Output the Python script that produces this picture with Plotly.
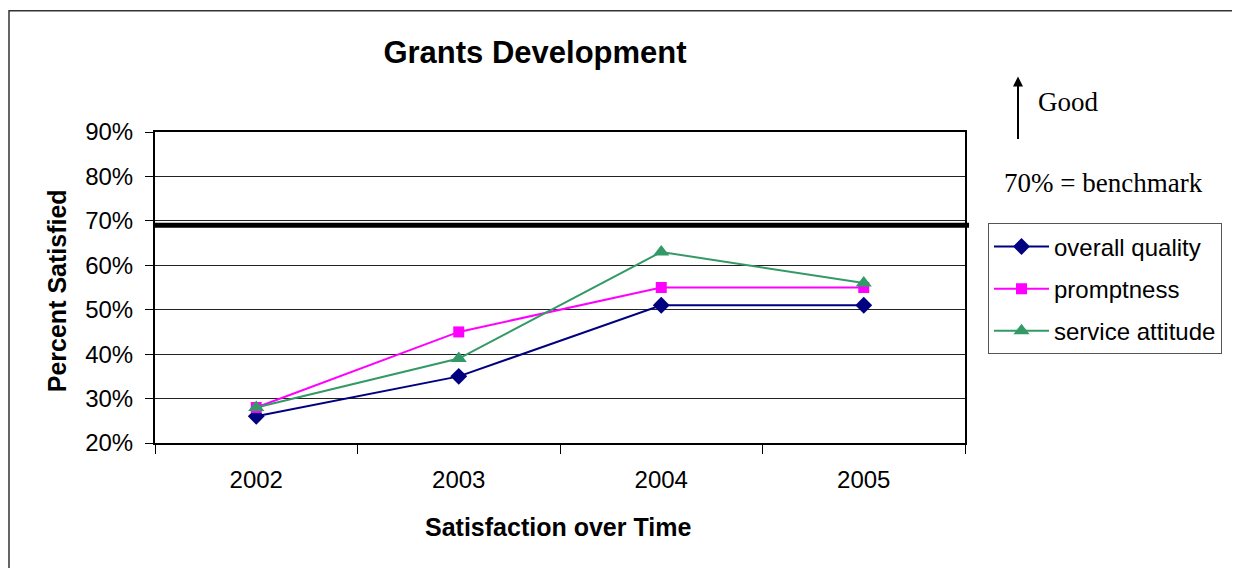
import plotly.graph_objects as go

years = ["2002", "2003", "2004", "2005"]
overall_quality = [26, 35, 51, 51]
promptness = [28, 45, 55, 55]
service_attitude = [28, 39, 63, 56]
benchmark = 69

SANS = "Liberation Sans, Arial, sans-serif"
SERIF = "Liberation Serif, Times New Roman, serif"

# page body adds an 8px margin, so the figure is drawn 8px smaller and shifted
OFF = 8
W, H = 1240 - OFF, 568 - OFF


def px_x(px):
    return (px - 155) / 810


def px_y(py):
    return (443 - py) / 311.5


fig = go.Figure()
series = [
    ("overall quality", overall_quality, "#000080", "diamond", 13),
    ("promptness", promptness, "#FF00FF", "square", 11),
    ("service attitude", service_attitude, "#339966", "triangle-up", 14),
]
for name, vals, color, symbol, size in series:
    fig.add_trace(go.Scatter(
        x=years, y=vals, name=name, mode="lines+markers",
        line=dict(color=color, width=2),
        marker=dict(symbol=symbol, size=size, color=color),
        legendgroup=name,
    ))

# benchmark bar drawn over the plot
fig.add_shape(type="line", xref="paper", yref="y", x0=-0.0025, x1=1.005,
              y0=benchmark, y1=benchmark, line=dict(color="black", width=5))

# outer chart border (right/bottom run off the picture)
fig.add_shape(type="rect", xref="paper", yref="paper", x0=px_x(9), x1=1.6,
              y0=-0.6, y1=px_y(10), line=dict(color="#333333", width=1.5), layer="below")

fig.add_annotation(x=px_x(1018), y=px_y(76), xref="paper", yref="paper", text="",
                   showarrow=True, arrowhead=2, arrowsize=1, arrowwidth=2,
                   arrowcolor="black", ax=0, ay=64)
fig.add_annotation(x=px_x(1036), y=px_y(101), xref="paper", yref="paper",
                   text="Good", showarrow=False, xanchor="left", yanchor="middle",
                   font=dict(family=SERIF, size=27, color="black"))
fig.add_annotation(x=px_x(1002), y=px_y(183), xref="paper", yref="paper",
                   text="70% = benchmark", showarrow=False, xanchor="left", yanchor="middle",
                   font=dict(family=SERIF, size=27, color="black"))

fig.add_annotation(x=px_x(57), y=px_y(291), xref="paper", yref="paper",
                   text="<b>Percent Satisfied</b>", textangle=-90, showarrow=False,
                   xanchor="center", yanchor="middle",
                   font=dict(family=SANS, size=25, color="black"))
fig.add_annotation(x=px_x(558), y=px_y(527), xref="paper", yref="paper",
                   text="<b>Satisfaction over Time</b>", showarrow=False,
                   xanchor="center", yanchor="middle",
                   font=dict(family=SANS, size=25, color="black"))

fig.update_layout(
    width=W, height=H,
    margin=dict(l=155 - OFF, r=W - (155 - OFF) - 810, t=131.5 - OFF, b=H - (131.5 - OFF) - 311.5),
    paper_bgcolor="white", plot_bgcolor="white",
    font=dict(family=SANS, size=24, color="black"),
    title=dict(text="<b>Grants Development</b>", x=(535 - OFF) / W, xanchor="center",
               y=1 - (52 - OFF) / H, yanchor="middle",
               font=dict(family=SANS, size=31, color="black")),
    showlegend=True,
    legend=dict(x=px_x(988), y=px_y(223), xanchor="left", yanchor="top",
                bordercolor="#555555", borderwidth=1, bgcolor="white",
                font=dict(family=SANS, size=24, color="black"),
                tracegroupgap=8, itemwidth=55),
)
fig.update_xaxes(
    type="category", range=[-0.5, 3.5], tickson="boundaries",
    ticks="outside", ticklen=9, tickcolor="black", tickwidth=1,
    ticklabelstandoff=14, showgrid=False,
    showline=True, linecolor="black", linewidth=2, mirror=True,
    tickfont=dict(size=24),
)
fig.update_yaxes(
    range=[20, 90], dtick=10, ticksuffix="%",
    ticks="outside", ticklen=8, tickcolor="black", tickwidth=1,
    ticklabelstandoff=7,
    showgrid=True, gridcolor="#222222", gridwidth=1,
    showline=True, linecolor="black", linewidth=2, mirror=True,
    zeroline=False, tickfont=dict(size=24),
)

fig.write_html("out.html")
